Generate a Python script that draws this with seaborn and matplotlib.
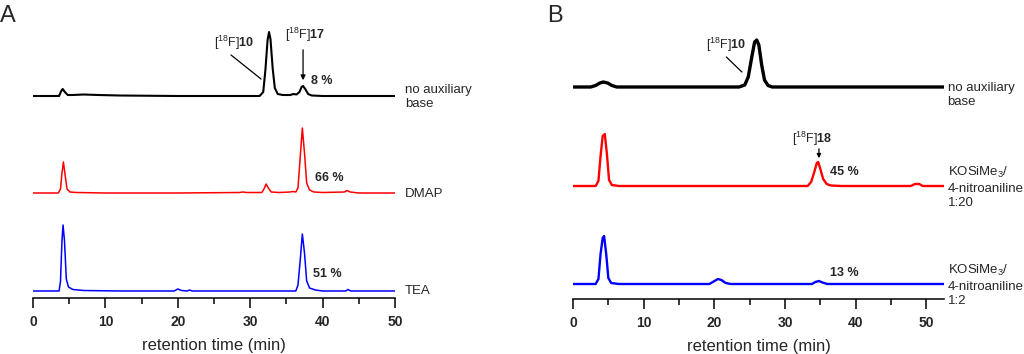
import numpy as np
import matplotlib
matplotlib.use("Agg")
import matplotlib.pyplot as plt
import seaborn as sns
from matplotlib.ticker import MultipleLocator

# --- radio-HPLC traces (time in min, signal in a.u.) ---
# panel A
a_noaux_t = [0, 3.6, 3.9, 4.1, 4.4, 4.8, 5.5, 7, 9, 12, 20, 31.3, 31.8, 32.1, 32.4, 32.6,
             32.8, 33.1, 33.4, 33.8, 34.5, 35.5, 36.0, 36.4, 36.8, 37.1, 37.3, 37.6, 38.0,
             38.5, 40, 50]
a_noaux_s = [0, 0, 5, 7, 4, 1, 1, 1.5, 1, 0.5, 0, 0, 4, 26, 56, 64,
             57, 28, 8, 2, 1, 1, 2, 1.5, 4, 9, 10, 7, 2,
             0.5, 0, 0]
a_dmap_t = [0, 3.5, 3.8, 4.0, 4.2, 4.4, 4.7, 5.1, 6, 10, 20, 28.5, 29, 29.5, 31.6, 31.9,
            32.2, 32.5, 32.9, 34, 35.5, 35.9, 36.3, 36.6, 36.9, 37.2, 37.5, 37.8, 38.2,
            38.8, 40, 43, 43.4, 43.8, 45, 50]
a_dmap_s = [0, 0, 4, 20, 31, 20, 4, 1, 0.5, 0, 0, 0.5, 1, 0.5, 0.5, 4,
            9, 5, 1, 0.5, 1, 1.5, 1, 5, 35, 65, 40, 10, 3,
            1, 0.5, 1, 2.5, 1, 0, 0]
a_tea_t = [0, 3.6, 3.8, 4.0, 4.15, 4.35, 4.6, 4.9, 5.5, 7, 12, 19.5, 20, 20.5, 21.3, 21.6,
           22, 36.3, 36.6, 36.9, 37.2, 37.5, 37.8, 38.2, 39, 40, 43.2, 43.5, 43.9, 50]
a_tea_s = [0, 0, 10, 50, 66, 50, 12, 4, 1.5, 0.5, 0, 0, 2, 0.5, 0, 1,
           0, 0, 6, 30, 57, 38, 10, 3, 1, 0, 0, 1.5, 0, 0]

# panel B
b_noaux_t = [0, 2.5, 3.2, 3.8, 4.3, 4.9, 5.5, 6.2, 23.5, 24.3, 24.8, 25.3, 25.7, 26.0,
             26.3, 26.7, 27.1, 27.6, 28.2, 52.5]
b_noaux_s = [0, 0, 1.5, 4, 5, 4, 1.5, 0, 0, 2, 10, 30, 45, 47,
             42, 22, 7, 1.5, 0, 0]
b_k20_t = [0, 3.2, 3.6, 3.9, 4.2, 4.5, 4.8, 5.1, 5.5, 6.5, 33.2, 33.7, 34.1, 34.5, 34.7,
           35.0, 35.4, 35.9, 36.5, 38, 47.8, 48.4, 49, 49.5, 52.5]
b_k20_s = [0, 0, 5, 30, 50, 52, 32, 6, 1, 0, 0, 4, 13, 23, 24,
           17, 7, 2, 0.5, 0, 0, 2, 2, 0, 0]
b_k2_t = [0, 3.2, 3.6, 3.9, 4.2, 4.4, 4.7, 5.0, 5.4, 6.5, 19.3, 19.9, 20.5, 21.0, 21.6,
          22.3, 33.8, 34.3, 34.8, 35.3, 36, 52.5]
b_k2_s = [0, 0, 5, 30, 46, 48, 30, 6, 1, 0, 0, 2.5, 5, 4, 1,
          0, 0, 2, 3, 1.5, 0, 0]

a_labels = ["no auxiliary\nbase", "DMAP", "TEA"]
b_labels = ["no auxiliary\nbase", "KOSiMe$_3$/\n4-nitroaniline\n1:20",
            "KOSiMe$_3$/\n4-nitroaniline\n1:2"]
a_yields = ["8 %", "66 %", "51 %"]
b_yields = ["45 %", "13 %"]
x_ticks = [0, 10, 20, 30, 40, 50]

sns.set_style("ticks")
plt.rcParams['font.family'] = ['Liberation Sans', 'DejaVu Sans']
plt.rcParams['mathtext.fontset'] = 'custom'
plt.rcParams['mathtext.rm'] = 'Liberation Sans'
plt.rcParams['mathtext.bf'] = 'Liberation Sans:bold'
plt.rcParams['mathtext.it'] = 'Liberation Sans:italic'

W, H = 1024, 354
fig = plt.figure(figsize=(W / 100, H / 100), dpi=100)

# axes placed in pixel units; y data = pixels above the time axis
axA = fig.add_axes([33 / W, (H - 298) / H, (395 - 33) / W, 298 / H])
axB = fig.add_axes([573 / W, (H - 299) / H, (944 - 573) / W, 299 / H])
axA.set_xlim(0, 50)
axA.set_ylim(0, 298)
axB.set_xlim(0, 52.5)
axB.set_ylim(0, 299)

def trace(ax, t, s, offset, color, lw):
    sns.lineplot(x=t, y=np.array(s) + offset, ax=ax, color=color, linewidth=lw,
                 estimator=None, sort=False, legend=False)

trace(axA, a_noaux_t, a_noaux_s, 202, 'black', 1.5)
trace(axA, a_dmap_t, a_dmap_s, 105, '#ff0000', 1.1)
trace(axA, a_tea_t, a_tea_s, 7, '#0000ff', 1.1)
trace(axB, b_noaux_t, b_noaux_s, 212, 'black', 2.4)
trace(axB, b_k20_t, b_k20_s, 113, '#ff0000', 1.7)
trace(axB, b_k2_t, b_k2_s, 15, '#0000ff', 1.7)

for ax in (axA, axB):
    sns.despine(ax=ax, left=True)
    ax.set_yticks([])
    ax.set_ylabel('')
    ax.set_xticks(x_ticks)
    ax.xaxis.set_minor_locator(MultipleLocator(5))
    ax.tick_params(axis='x', which='major', direction='out', length=7, width=1.1,
                   labelsize=10, pad=5, color='black')
    ax.tick_params(axis='x', which='minor', direction='out', length=4, width=1.1,
                   color='black')
    ax.spines['bottom'].set_linewidth(1.1)
    ax.spines['bottom'].set_color('black')
    plt.setp(ax.get_xticklabels(), fontweight='bold')
    ax.set_xlabel('retention time (min)', fontsize=12, labelpad=7)
    ax.patch.set_alpha(0)

fig.text(0, 1 - 22 / H, 'A', fontsize=17, va='baseline', ha='left')
fig.text(547 / W, 1 - 22 / H, 'B', fontsize=17, va='baseline', ha='left')

fs = 9.5
# panel A annotations
axA.text(27.8, 255, r'[$^{\mathrm{18}}$F]$\mathbf{10}$', fontsize=9, ha='center', va='center')
axA.plot([27.35, 31.5], [243, 219], color='black', lw=0.9)
axA.text(37.6, 263, r'[$^{\mathrm{18}}$F]$\mathbf{17}$', fontsize=9, ha='center', va='center')
axA.annotate('', xy=(37.3, 215), xytext=(37.3, 251),
             arrowprops=dict(arrowstyle='-|>', color='black', lw=0.9, mutation_scale=7))
for (x, y), txt in zip([(38.4, 217), (39.0, 120), (38.7, 24)], a_yields):
    axA.text(x, y, txt, fontsize=9, fontweight='bold', ha='left', va='center')
for y, txt in zip([201, 104, 7], a_labels):
    axA.text(51.4, y, txt, fontsize=fs, ha='left', va='center', linespacing=1.2)

# panel B annotations
axB.text(21.6, 254, r'[$^{\mathrm{18}}$F]$\mathbf{10}$', fontsize=9, ha='center', va='center')
axB.plot([21.7, 23.9], [242, 227], color='black', lw=0.9)
axB.text(33.9, 160, r'[$^{\mathrm{18}}$F]$\mathbf{18}$', fontsize=9, ha='center', va='center')
axB.annotate('', xy=(34.8, 138), xytext=(34.8, 153),
             arrowprops=dict(arrowstyle='-|>', color='black', lw=0.9, mutation_scale=6))
for (x, y), txt in zip([(36.3, 127), (36.3, 26)], b_yields):
    axB.text(x, y, txt, fontsize=9, fontweight='bold', ha='left', va='center')
for y, txt in zip([204, 112, 14], b_labels):
    axB.text(53.0, y, txt, fontsize=fs, ha='left', va='center', linespacing=1.25)

fig.savefig('out.png', dpi=100)
